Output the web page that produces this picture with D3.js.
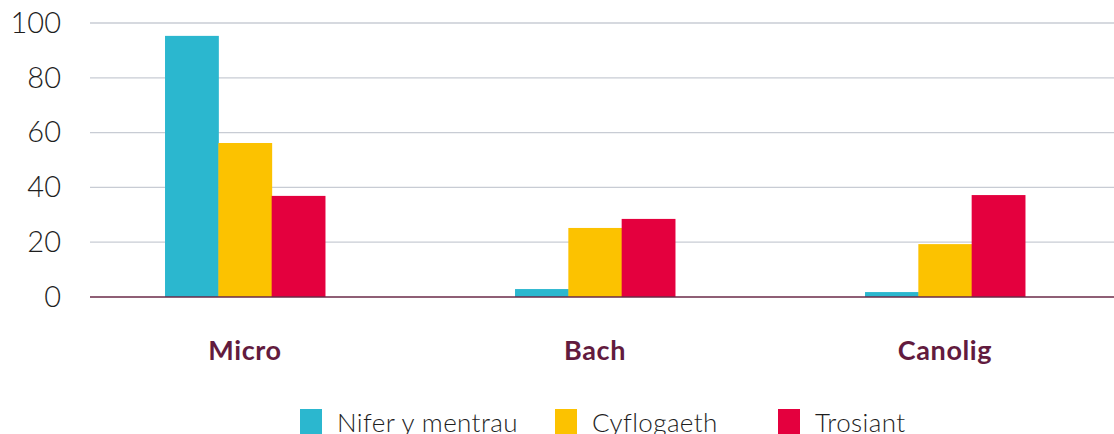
<!DOCTYPE html>
<html>
<head>
<meta charset="utf-8">
<script src="https://cdn.jsdelivr.net/npm/d3@7"></script>
<style>
  body { margin: 0; background: #fff; }
  svg { display: block; font-family: Lato, "Open Sans", sans-serif; }
</style>
</head>
<body>
<svg id="chart" width="1114" height="434"></svg>
<script>
var categories = ["Micro", "Bach", "Canolig"];
var seriesNames = ["Nifer y mentrau", "Cyflogaeth", "Trosiant"];
var nifer = [95.3, 2.9, 1.8];
var cyflogaeth = [56.2, 25.2, 19.3];
var trosiant = [36.9, 28.5, 37.2];
var yTicks = [0, 20, 40, 60, 80, 100];
var colours = ["#2bb7cf", "#fcc200", "#e4003e"];

var series = [nifer, cyflogaeth, trosiant];
var svg = d3.select('#chart');

var plotLeft = 90, plotRight = 1114, plotTop = 23, plotBottom = 297;

var x0 = d3.scaleBand().domain(categories).range([70, 1120]).paddingInner(0.543).paddingOuter(0.2715);
var x1 = d3.scaleBand().domain(seriesNames).range([0, x0.bandwidth()]);
var y = d3.scaleLinear().domain([0, 100]).range([plotBottom, plotTop]);

// grid lines
svg.append('g').selectAll('line').data(yTicks.filter(function (t) { return t > 0; })).enter()
    .append('line')
    .attr('x1', plotLeft).attr('x2', plotRight)
    .attr('y1', function (d) { return y(d); }).attr('y2', function (d) { return y(d); })
    .attr('stroke', '#c8ccd4').attr('stroke-width', 1.3);

// y tick labels
var yAxis = svg.append('g').attr('transform', 'translate(' + 61 + ',0)')
    .call(d3.axisLeft(y).tickValues(yTicks).tickSize(0).tickPadding(0));
yAxis.select('.domain').remove();
yAxis.selectAll('text')
    .attr('font-size', 29).attr('font-weight', 300).attr('fill', '#1e1e1e')
    .attr('font-family', 'Lato, sans-serif');

// bars
var groups = svg.append('g').selectAll('g').data(categories).enter()
    .append('g')
    .attr('transform', function (d) { return 'translate(' + x0(d) + ',0)'; });

groups.selectAll('rect').data(function (d, i) {
    return seriesNames.map(function (s, j) { return {name: s, value: series[j][i], c: colours[j]}; });
}).enter().append('rect')
    .attr('x', function (d) { return x1(d.name); })
    .attr('width', x1.bandwidth() + 0.5)
    .attr('y', function (d) { return y(d.value); })
    .attr('height', function (d) { return y(0) - y(d.value); })
    .attr('fill', function (d) { return d.c; });

// baseline
svg.append('line')
    .attr('x1', plotLeft).attr('x2', plotRight)
    .attr('y1', y(0)).attr('y2', y(0))
    .attr('stroke', '#6a2a47').attr('stroke-width', 1.5);

// category labels
var xAxis = svg.append('g').attr('transform', 'translate(0,' + 360 + ')')
    .call(d3.axisBottom(x0).tickSize(0).tickPadding(0));
xAxis.select('.domain').remove();
xAxis.selectAll('text')
    .attr('dy', 0)
    .attr('font-size', 27).attr('font-weight', 700).attr('fill', '#621b3e')
    .attr('letter-spacing', 0.6)
    .attr('font-family', 'Lato, sans-serif');

// legend
var legendX = [300, 555, 778];
var legend = svg.append('g').selectAll('g').data(seriesNames).enter()
    .append('g')
    .attr('transform', function (d, i) { return 'translate(' + legendX[i] + ',409)'; });
legend.append('rect').attr('width', 22).attr('height', 25)
    .attr('fill', function (d, i) { return colours[i]; });
legend.append('text')
    .attr('x', 37).attr('y', 23)
    .attr('font-size', 26).attr('font-weight', 300).attr('fill', '#1e1e1e')
    .attr('letter-spacing', 0.4)
    .text(function (d) { return d; });
</script>
</body>
</html>
